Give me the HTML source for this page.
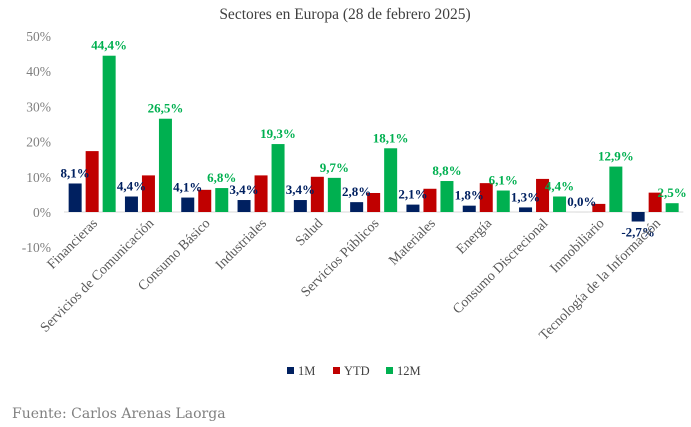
<!DOCTYPE html>
<html><head><meta charset="utf-8"><style>
body{margin:0;background:#fff;}
svg text{font-family:"Liberation Serif",serif;}
</style></head><body>
<svg id="c" width="691" height="422">
<text x="345" y="19" text-anchor="middle" font-size="15.5" fill="#404040">Sectores en Europa (28 de febrero 2025)</text>
<g id="axis"></g><g id="bars"></g><g id="labels"></g>
<g>
<rect x="287" y="367" width="7" height="7" fill="#002060"/>
<text x="298" y="375" font-size="12.5" fill="#404040">1M</text>
<rect x="333" y="367" width="7" height="7" fill="#c00000"/>
<text x="344" y="375" font-size="12.5" fill="#404040">YTD</text>
<rect x="386" y="367" width="7" height="7" fill="#00b050"/>
<text x="397" y="375" font-size="12.5" fill="#404040">12M</text>
</g>
<text x="12" y="418" font-size="14" fill="#808080" style="font-family:'DejaVu Serif',serif">Fuente: Carlos Arenas Laorga</text>
</svg>
<script>
const categories=["Financieras","Servicios de Comunicación","Consumo Básico","Industriales","Salud","Servicios Públicos","Materiales","Energía","Consumo Discrecional","Inmobiliario","Tecnología de la Información"];
const m1=[8.1,4.4,4.1,3.4,3.4,2.8,2.1,1.8,1.3,0.0,-2.7];
const ytd=[17.3,10.4,6.3,10.4,10.0,5.4,6.6,8.2,9.4,2.3,5.5];
const m12=[44.4,26.5,6.8,19.3,9.7,18.1,8.8,6.1,4.4,12.9,2.5];
const ticks=[-10,0,10,20,30,40,50];
const ns="http://www.w3.org/2000/svg";
const x0=64,cw=56.3,y0=212,ppu=3.52;
const y=v=>y0-v*ppu;
function mk(t,a,p){const e=document.createElementNS(ns,t);for(const k in a)e.setAttribute(k,a[k]);if(p)document.getElementById(p).appendChild(e);return e;}
const fmt=v=>v.toFixed(1).replace('.',',')+'%';
ticks.forEach(t=>{const e=mk('text',{x:51,y:y(t)+5,'text-anchor':'end','font-size':13.5,fill:'#7f7f7f'},'axis');e.textContent=t+'%';

});
const ax=mk('line',{x1:x0,x2:x0+cw*11,y1:y0,y2:y0,stroke:'#d9d9d9','stroke-width':1},'axis');


const series=[[m1,'#002060',-17,'1m'],[ytd,'#c00000',0,'ytd'],[m12,'#00b050',17,'12m']];
categories.forEach((c,i)=>{const cx=x0+cw*(i+0.5);
series.forEach(([d,col,off,nm])=>{const v=d[i];const top=Math.min(y(v),y0),h=Math.abs(y(v)-y0);
const r=mk('rect',{x:cx+off-6.5,y:top,width:13,height:Math.max(h,0.01),fill:col},'bars');


if(nm!=='ytd'){const ly=v<0?y(v)+15:y(v)-6;const t=mk('text',{x:cx+off,y:ly,'text-anchor':'middle','font-size':13,'font-weight':'bold',fill:col},'labels');t.textContent=fmt(v);

}});
const l=mk('text',{x:cx+6,y:224,'text-anchor':'end','font-size':14,fill:'#595959',transform:`rotate(-45 ${cx+6} 224)`},'labels');l.textContent=c;

});
</script>
</body></html>
